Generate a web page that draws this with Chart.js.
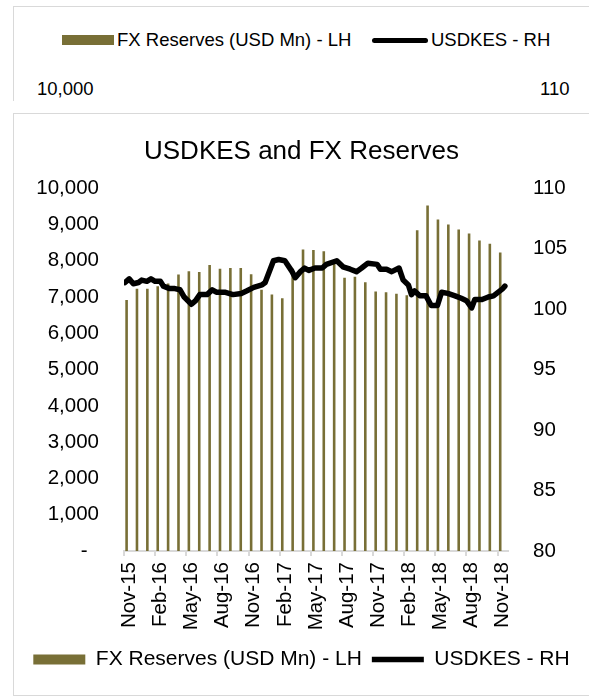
<!DOCTYPE html>
<html>
<head>
<meta charset="utf-8">
<script src="https://cdn.jsdelivr.net/npm/chart.js"></script>
<style>
  html, body { margin: 0; padding: 0; background: #fff; overflow: hidden; }
  body { width: 589px; height: 697px; position: relative; font-family: "Liberation Sans", Arial, sans-serif; color: #000; }
  .strip { position: absolute; left: 13px; top: 6px; width: 600px; height: 94px;
           border-top: 1px solid #d9d9d9; border-left: 1px solid #d9d9d9; }
  .strip span { position: absolute; font-size: 18.5px; line-height: 20px; white-space: nowrap; }
  .sw-bar { position: absolute; left: 48px; top: 28px; width: 52px; height: 10px; background: #786F36; }
  .sw-line { position: absolute; left: 358px; top: 31px; width: 56px; height: 5px; border-radius: 3px; background: #000; }
  .box { position: absolute; left: 13px; top: 113px; width: 600px; height: 581px; border: 1px solid #d9d9d9; }
  #chart { position: absolute; left: 0; top: 0; }
</style>
</head>
<body>
<div class="strip">
  <div class="sw-bar"></div>
  <span style="left:103px; top:23px;">FX Reserves (USD Mn) - LH</span>
  <div class="sw-line"></div>
  <span style="left:417px; top:23px;">USDKES - RH</span>
  <span style="left:23px; top:72px;">10,000</span>
  <span style="left:526px; top:72px;">110</span>
</div>
<div class="box">
  <canvas id="chart" width="575" height="580"></canvas>
</div>
<script>
// monthly categories, Nov-15 .. Nov-18
var months = [
  'Nov-15', 'Dec-15', 'Jan-16', 'Feb-16', 'Mar-16', 'Apr-16', 'May-16', 'Jun-16', 'Jul-16',
  'Aug-16', 'Sep-16', 'Oct-16', 'Nov-16', 'Dec-16', 'Jan-17', 'Feb-17', 'Mar-17', 'Apr-17',
  'May-17', 'Jun-17', 'Jul-17', 'Aug-17', 'Sep-17', 'Oct-17', 'Nov-17', 'Dec-17', 'Jan-18',
  'Feb-18', 'Mar-18', 'Apr-18', 'May-18', 'Jun-18', 'Jul-18', 'Aug-18', 'Sep-18', 'Oct-18',
  'Nov-18'
];

// FX reserves, USD mn (left axis)
var fxReserves = [
  6920, 7230, 7230, 7300, 7370, 7620, 7710, 7690, 7880,
  7780, 7800, 7800, 7630, 7200, 7070, 6970, 7780, 8310,
  8300, 8260, 7950, 7530, 7560, 7410, 7150, 7130, 7090,
  7050, 8840, 9520, 9140, 9000, 8860, 8750, 8560, 8470,
  8230
];

// USDKES observations; position in months from Nov-15 (right axis)
var kesMonth = [
  -0.4, 0.0, 0.4, 0.9, 1.2, 1.7, 2.1, 2.5, 3.0, 3.3,
  3.9, 4.4, 4.9, 5.3, 6.0, 6.4, 6.8, 7.5, 8.0, 8.4,
  9.2, 10.0, 10.8, 11.3, 12.0, 12.8, 13.1, 13.9, 14.4, 15.0,
  15.7, 16.0, 16.5, 16.9, 17.3, 17.9, 18.6, 19.0, 20.0, 20.6,
  21.3, 21.9, 22.4, 23.0, 23.9, 24.2, 24.8, 25.3, 26.0, 26.4,
  26.9, 27.2, 27.5, 28.0, 28.6, 29.1, 29.7, 30.1, 30.7, 31.4,
  32.0, 32.5, 33.0, 33.3, 34.0, 34.6, 35.1, 36.0, 36.2
];
var usdkes = [
  102.2, 102.5, 102.1, 102.2, 102.4, 102.3, 102.5, 102.3, 102.3, 101.9,
  101.7, 101.7, 101.6, 101.0, 100.4, 100.7, 101.2, 101.2, 101.6, 101.4,
  101.4, 101.2, 101.3, 101.5, 101.8, 102.0, 102.2, 104.0, 104.1, 104.0,
  103.1, 102.6, 103.1, 103.4, 103.2, 103.4, 103.4, 103.7, 104.0, 103.5,
  103.3, 103.1, 103.4, 103.8, 103.7, 103.3, 103.3, 103.1, 103.4, 102.4,
  102.0, 101.2, 101.5, 101.1, 101.1, 100.3, 100.3, 101.4, 101.3, 101.1,
  100.9, 100.7, 100.1, 100.8, 100.8, 101.0, 101.1, 101.7, 101.9
];

var OLIVE = '#786F36';
var FONT = '"Liberation Sans", Arial, sans-serif';

function thousands(v) {
  if (v === 0) return '-  ';
  return String(v).replace(/\B(?=(\d{3})+(?!\d))/g, ',');
}

var kesPoints = kesMonth.map(function (m, i) { return { x: m, y: usdkes[i] }; });

new Chart(document.getElementById('chart').getContext('2d'), {
  data: {
    labels: months,
    datasets: [{
      type: 'bar',
      label: 'FX Reserves (USD Mn) - LH',
      data: fxReserves,
      backgroundColor: OLIVE,
      borderWidth: 0,
      barPercentage: 0.5,
      categoryPercentage: 1,
      pointStyle: 'rect',
      xAxisID: 'x',
      yAxisID: 'y',
      order: 1
    }, {
      type: 'line',
      label: 'USDKES - RH',
      data: kesPoints,
      borderColor: '#000',
      backgroundColor: '#000',
      borderWidth: 5.5,
      borderJoinStyle: 'round',
      borderCapStyle: 'round',
      pointRadius: 0,
      pointStyle: 'line',
      tension: 0,
      xAxisID: 'xl',
      yAxisID: 'yR',
      order: 0
    }]
  },
  options: {
    responsive: false,
    animation: false,
    devicePixelRatio: 1,
    layout: { padding: { top: 22, bottom: 14, left: 0, right: 0 } },
    plugins: {
      title: {
        display: true,
        text: 'USDKES and FX Reserves',
        color: '#000',
        font: { family: FONT, size: 26, weight: 'normal' },
        padding: { top: 0, bottom: 21 }
      },
      legend: {
        position: 'bottom',
        labels: {
          color: '#000',
          font: { family: FONT, size: 21 },
          usePointStyle: true,
          pointStyleWidth: 52,
          boxHeight: 10,
          padding: 10,
          sort: function (a, b) { return a.datasetIndex - b.datasetIndex; }
        }
      },
      tooltip: { enabled: false }
    },
    scales: {
      x: {
        type: 'category',
        offset: true,
        border: { display: true, color: '#d9d9d9', width: 2 },
        grid: {
          drawOnChartArea: false,
          drawTicks: true,
          tickLength: 5,
          lineWidth: 2,
          color: function (ctx) { return ctx.index % 3 === 0 ? '#d9d9d9' : 'rgba(0,0,0,0)'; }
        },
        ticks: {
          autoSkip: false,
          minRotation: 90,
          maxRotation: 90,
          padding: 6,
          color: '#000',
          font: { family: FONT, size: 20.5 },
          callback: function (v, i) { return i % 3 === 0 ? months[i] : ''; }
        },
        afterFit: function (s) { s.height = 88; }
      },
      xl: {
        type: 'linear',
        display: false,
        min: -0.5,
        max: 36.5
      },
      y: {
        position: 'left',
        min: 0,
        max: 10000,
        border: { display: false },
        grid: { display: false, drawTicks: false },
        ticks: {
          stepSize: 1000,
          padding: 25,
          color: '#000',
          font: { family: FONT, size: 20.5 },
          callback: thousands
        },
        afterFit: function (s) { s.width = 110; }
      },
      yR: {
        position: 'right',
        min: 80,
        max: 110,
        border: { display: false },
        grid: { display: false, drawTicks: false },
        ticks: {
          stepSize: 5,
          padding: 25,
          color: '#000',
          font: { family: FONT, size: 20.5 }
        },
        afterFit: function (s) { s.width = 81; }
      }
    }
  }
});
</script>
</body>
</html>
